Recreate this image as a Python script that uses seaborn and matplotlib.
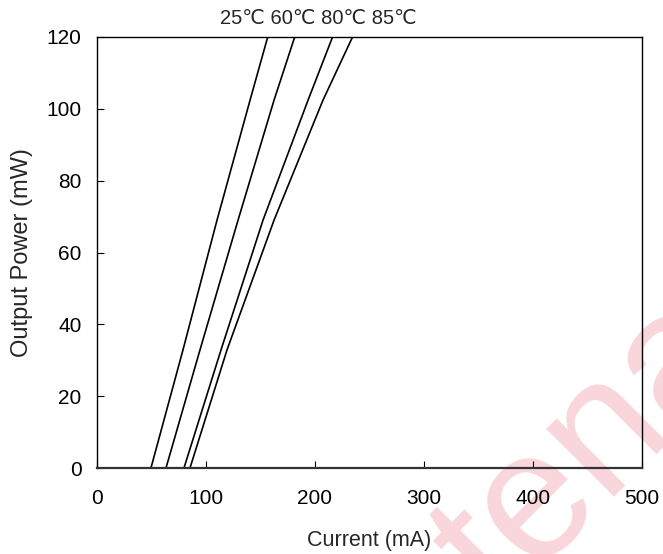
import numpy as np
import pandas as pd
import seaborn as sns
import matplotlib
matplotlib.use("Agg")
import matplotlib.pyplot as plt

# L-I curves (current in mA, power in mW)
temps = ["25℃", "60℃", "80℃", "85℃"]
current_25 = [0, 49.5, 78.9, 110.1, 140.4, 156.9]
current_60 = [0, 63.3, 94.5, 129.4, 162.4, 181.7]
current_80 = [0, 79.8, 113.8, 152.3, 193.6, 216.5]
current_85 = [0, 85.3, 119.3, 162.4, 207.3, 234.9]
power = [0, 0, 32.9, 69.0, 102.4, 120.3]

x_ticks = [0, 100, 200, 300, 400, 500]
y_ticks = [0, 20, 40, 60, 80, 100, 120]

# ----------------------------------------------------------------------
# long-form table for seaborn
# ----------------------------------------------------------------------
rows = []
for t, cur in zip(temps, [current_25, current_60, current_80, current_85]):
    for c, p in zip(cur, power):
        rows.append({"temp": t, "current": c, "power": p})
df = pd.DataFrame(rows)

sns.set_style("ticks")
plt.rcParams["font.family"] = ["Liberation Sans", "DejaVu Sans"]

fig = plt.figure(figsize=(6.63, 5.54), dpi=100)
ax = fig.add_axes([97 / 663, 86 / 554, 545 / 663, 431 / 554])
ax.patch.set_alpha(0)

sns.lineplot(data=df, x="current", y="power", hue="temp", units="temp",
             estimator=None, sort=False, palette=["black"] * 4,
             linewidth=1.2, legend=False, ax=ax)

ax.set_xlim(0, 500)
ax.set_ylim(0, 120)
ax.set_xticks(x_ticks)
ax.set_yticks(y_ticks)
ax.tick_params(direction="in", length=5, labelsize=15, colors="black")
ax.tick_params(axis="x", pad=15)
ax.tick_params(axis="y", pad=11)
for side in ["top", "right", "left", "bottom"]:
    ax.spines[side].set_visible(True)
    ax.spines[side].set_color("black")
    ax.spines[side].set_linewidth(1.0)
ax.spines["bottom"].set_linewidth(1.6)
ax.spines["bottom"].set_color("#333333")

ax.set_xlabel("Current (mA)", fontsize=15.5, labelpad=16)
ax.set_ylabel("Output Power (mW)", fontsize=17, labelpad=10)

ax.text(0.407, 1.02, " ".join(temps), transform=ax.transAxes,
        ha="center", va="bottom", fontsize=14.5)

# pink watermark behind everything
fig.text(590 / 663, 1 - 452 / 554, "tena", rotation=45, rotation_mode="anchor",
         ha="center", va="center", fontsize=130,
         color="#f9d5dc", zorder=-1)

fig.savefig("out.png", dpi=100)
